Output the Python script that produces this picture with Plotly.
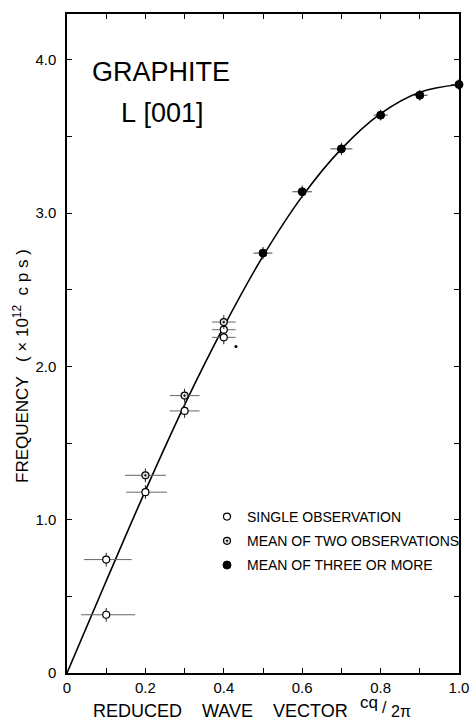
import plotly.graph_objects as go

# ---- data ----
# single observation
single_x = [0.1, 0.1, 0.2, 0.3, 0.4, 0.4]
single_y = [0.38, 0.74, 1.18, 1.71, 2.24, 2.19]
single_ex_plus = [0.074, 0.065, 0.055, 0.038, 0.030, 0.030]
single_ex_minus = [0.064, 0.057, 0.049, 0.038, 0.030, 0.030]
single_ey = [0.045, 0.045, 0.045, 0.045, 0.045, 0.045]

# mean of two observations
two_x = [0.2, 0.3, 0.4]
two_y = [1.29, 1.81, 2.29]
two_ex = [0.052, 0.038, 0.030]
two_ey = [0.045, 0.045, 0.045]

# mean of three or more
three_x = [0.5, 0.6, 0.7, 0.8, 0.9, 1.0]
three_y = [2.74, 3.14, 3.42, 3.64, 3.77, 3.84]
three_ex = [0.024, 0.025, 0.028, 0.018, 0.020, 0.020]
three_ey = [0.04, 0.04, 0.04, 0.035, 0.035, 0.035]

# stray small dot
stray_x = [0.431]
stray_y = [2.13]

# smooth curve
curve_x = [0.0, 0.1, 0.2, 0.3, 0.4, 0.5, 0.6, 0.7, 0.8, 0.9, 1.0]
curve_y = [0.0, 0.60, 1.19, 1.75, 2.26, 2.72, 3.11, 3.42, 3.65, 3.79, 3.84]

x_tickvals = [0, 0.1, 0.2, 0.3, 0.4, 0.5, 0.6, 0.7, 0.8, 0.9, 1.0]
x_ticktext = ["0", "", "0.2", "", "0.4", "", "0.6", "", "0.8", "", "1.0"]
y_tickvals = [0, 0.5, 1.0, 1.5, 2.0, 2.5, 3.0, 3.5, 4.0]
y_ticktext = ["0", "", "1.0", "", "2.0", "", "3.0", "", "4.0"]

FONT = "Liberation Sans, Arial, sans-serif"
W, H = 470, 721
L, R, T, B = 67, 459, 14, 673


def px(x):
    return (x - L) / (R - L)


def py(y):
    return (B - y) / (B - T)


fig = go.Figure()

fig.add_trace(go.Scatter(
    x=curve_x, y=curve_y, mode="lines",
    line=dict(color="black", width=1.6, shape="spline", smoothing=1.0),
    showlegend=False, hoverinfo="skip", cliponaxis=False))

fig.add_trace(go.Scatter(
    x=single_x, y=single_y, mode="markers", name="SINGLE OBSERVATION",
    legendgroup="a",
    marker=dict(symbol="circle", size=7, color="white",
                line=dict(color="black", width=1.2)),
    error_x=dict(type="data", symmetric=False, array=single_ex_plus,
                 arrayminus=single_ex_minus, color="#666", thickness=1, width=0),
    error_y=dict(type="data", array=single_ey, color="#222", thickness=1, width=0),
    cliponaxis=False))

fig.add_trace(go.Scatter(
    x=two_x, y=two_y, mode="markers", name="MEAN OF TWO OBSERVATIONS",
    legendgroup="b",
    marker=dict(symbol="circle-dot", size=7, color="#ddd",
                line=dict(color="black", width=1.2)),
    error_x=dict(type="data", array=two_ex, color="#666", thickness=1, width=0),
    error_y=dict(type="data", array=two_ey, color="#222", thickness=1, width=0),
    cliponaxis=False))

fig.add_trace(go.Scatter(
    x=three_x, y=three_y, mode="markers", name="MEAN OF THREE OR MORE",
    legendgroup="c",
    marker=dict(symbol="circle", size=8, color="black",
                line=dict(color="black", width=1)),
    error_x=dict(type="data", array=three_ex, color="#444", thickness=1, width=0),
    error_y=dict(type="data", array=three_ey, color="#222", thickness=1, width=0),
    cliponaxis=False))

fig.add_trace(go.Scatter(
    x=stray_x, y=stray_y, mode="markers",
    marker=dict(size=3, color="black"), showlegend=False, hoverinfo="skip"))

axis_common = dict(
    showgrid=False, zeroline=False, showline=True, linecolor="black",
    linewidth=1.5, mirror="allticks", ticks="inside", ticklen=5,
    tickwidth=1, tickcolor="black",
    tickfont=dict(family=FONT, size=15, color="black"),
)

fig.update_xaxes(range=[0, 1.0], tickmode="array", tickvals=x_tickvals,
                 ticktext=x_ticktext, ticklabelstandoff=0, **axis_common)
fig.update_yaxes(range=[0, 4.3], tickmode="array", tickvals=y_tickvals,
                 ticktext=y_ticktext, ticklabelstandoff=6, **axis_common)

NB = "\u00a0"
annotations = [
    dict(text="GRAPHITE", x=px(161), y=py(72), font=dict(size=27)),
    dict(text="L" + NB + "[001]", x=px(162), y=py(113), font=dict(size=27)),
    dict(text="REDUCED" + NB * 4 + "WAVE" + NB * 4 + "VECTOR",
         x=px(220), y=py(711), font=dict(size=18)),
    dict(text="cq", x=px(379), y=py(702), font=dict(size=17), xanchor="right"),
    dict(text="/", x=px(381), y=py(707), font=dict(size=16), xanchor="left"),
    dict(text="2π", x=px(390), y=py(711), font=dict(size=16), xanchor="left"),
    dict(text="FREQUENCY" + NB * 3 + "(" + NB + "×" + NB + "10<sup>12</sup>" + NB * 2 + "c" + NB + "p" + NB + "s" + NB + ")",
         x=px(21), y=py(366), textangle=-90, font=dict(size=17)),
]
for a in annotations:
    a.setdefault("xanchor", "center")
    a.update(xref="paper", yref="paper", showarrow=False, yanchor="middle",
             borderpad=0)
    a["font"].update(family=FONT, color="black")
fig.update_layout(annotations=annotations)

fig.update_layout(
    width=W, height=H,
    margin=dict(l=L, r=W - R, t=T, b=H - B, autoexpand=False),
    paper_bgcolor="white", plot_bgcolor="white",
    font=dict(family=FONT, color="black"),
    legend=dict(x=px(207), y=py(501), xanchor="left", yanchor="top",
                bgcolor="rgba(0,0,0,0)", font=dict(family=FONT, size=14),
                tracegroupgap=3, itemclick=False),
)

fig.write_html(
    "out.html",
    config={"displayModeBar": False},
    post_script="document.body.style.margin='0px';document.body.style.overflow='hidden';",
)
